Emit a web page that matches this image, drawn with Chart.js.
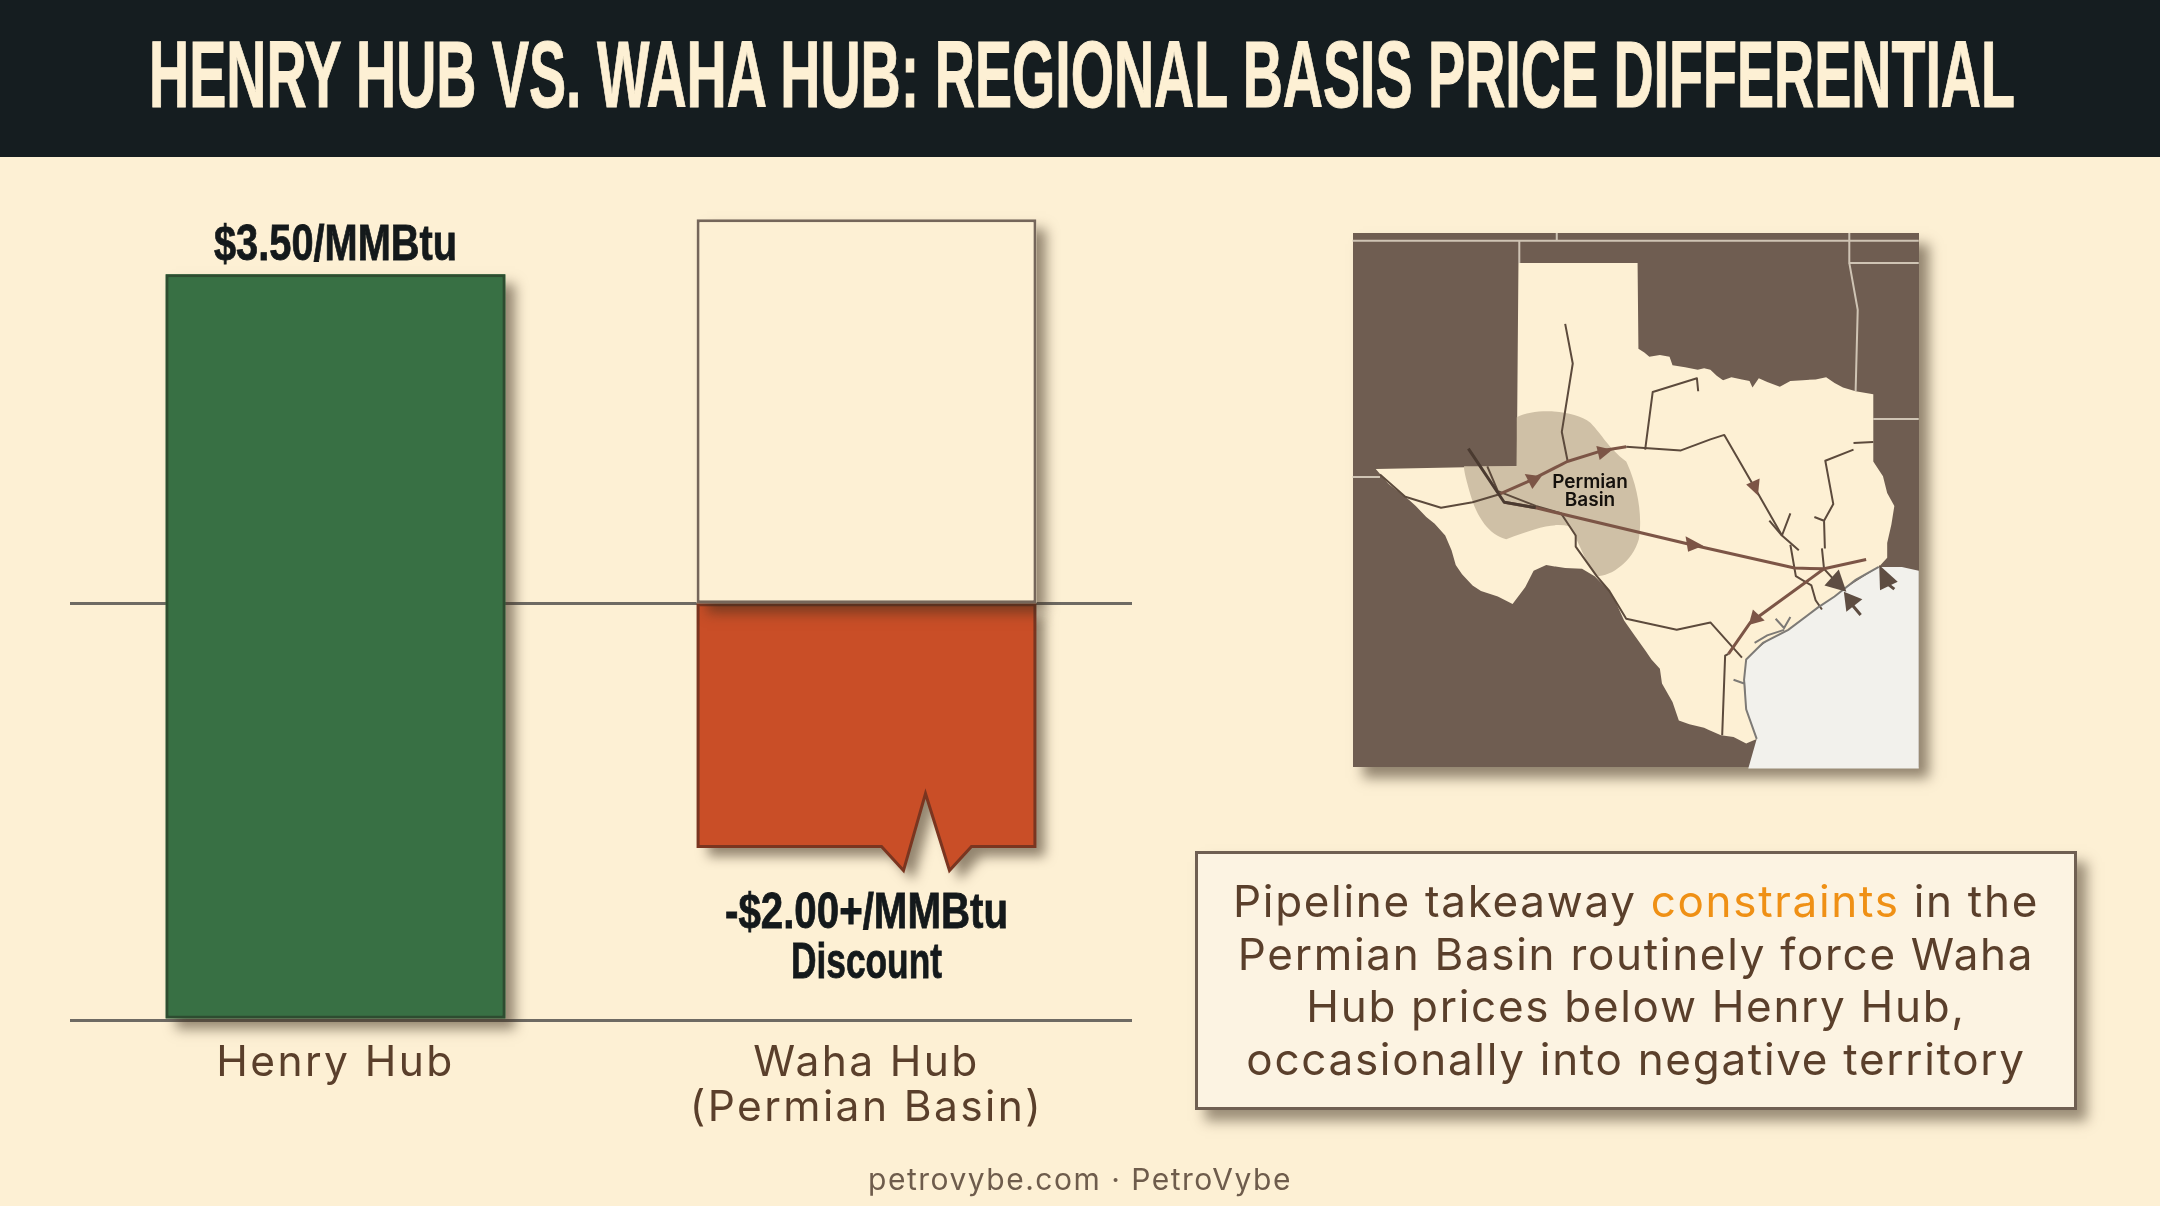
<!DOCTYPE html>
<html>
<head>
<meta charset="utf-8">
<title>Henry Hub vs. Waha Hub</title>
<script src="https://cdn.jsdelivr.net/npm/chart.js@4"></script>
<style>
  html, body { margin: 0; padding: 0; background: #fdf0d4; }
  body { width: 2160px; height: 1206px; position: relative; overflow: hidden; font-family: Inter, sans-serif; }
  #header { position: absolute; left: 0; top: 0; width: 2160px; height: 157px; background: #151d20; }
  #titleText { position: absolute; left: 1082px; top: 22px; white-space: nowrap; -webkit-text-stroke: 1px #fdf0d4;
           font: bold 94px "Liberation Sans Narrow", sans-serif; line-height: 105px; color: #fdf0d4; }
  #chart { position: absolute; left: 0; top: 0; }
  #mapBox { position: absolute; left: 1353px; top: 233px; width: 566px; height: 534px; background: #6f5d51;
            box-shadow: 10px 11px 12px rgba(60,45,30,.55); }
  #map { position: absolute; left: 1300px; top: 210px; width: 660px; height: 580px; }
  .mapLabel { position: absolute; left: 1530px; width: 120px; text-align: center; font-weight: 600; font-size: 19px; color: #14100c; line-height: 18px; }
  #note { position: absolute; left: 1195px; top: 851px; width: 876px; height: 253px; border: 3px solid #6f5f52; background: #fcf3e2;
          box-shadow: 10px 11px 12px rgba(60,45,30,.5); text-align: center; color: #5a3f2b;
          font-size: 44px; line-height: 52.5px; letter-spacing: 1.7px; }
  #note div { padding-top: 21px; }
  #note b { font-weight: 400; color: #ef9015; }
  #footer { position: absolute; left: 0; top: 1161px; width: 2160px; text-align: center; font-size: 30px; letter-spacing: 1.5px; color: #6e5c4c; }
</style>
</head>
<body>
<div id="header"></div>
<div id="titleText">HENRY HUB VS. WAHA HUB: REGIONAL BASIS PRICE DIFFERENTIAL</div>
<canvas id="chart" width="2160" height="1206"></canvas>

<div id="mapBox"></div>
<svg id="map" viewBox="0 0 1568 1568" preserveAspectRatio="none">
  <polygon fill="#f2f1ec" points="1065,1510 1085,1430 1060,1350 1055,1215 1160,1120 1375,965 1430,965 1470,975 1470,1510"/>
  <g fill="none" stroke="#cfc4b4" stroke-width="2">
    <path vector-effect="non-scaling-stroke" d="M125,83 L1470,83 M610,62 L610,83 M521,83 L521,143 M1305,62 L1305,143 L1470,143 M1305,143 L1325,270 L1320,490 M1362,565 L1470,565 M125,722 L190,722"/>
  </g>
  <polygon fill="#fdf0d4" points="519,143 802,143 804,375 818,385 830,397 855,392 878,397 885,420 915,425 945,432 960,428 975,432 990,448 1005,460 1025,452 1050,458 1068,462 1075,480 1090,455 1110,465 1140,478 1165,462 1195,460 1225,458 1250,452 1270,468 1290,480 1320,490 1362,498 1362,680 1385,720 1395,765 1412,800 1405,850 1395,900 1395,940 1375,965 1320,1000 1270,1045 1230,1075 1160,1135 1100,1170 1060,1215 1055,1270 1060,1350 1085,1430 1060,1442 1030,1425 1000,1420 970,1405 960,1400 925,1390 900,1380 885,1330 860,1280 855,1240 835,1215 820,1190 795,1150 770,1110 750,1060 735,1030 700,990 670,970 630,968 585,960 555,975 535,1020 505,1065 470,1045 430,1030 410,1015 385,985 370,960 360,920 345,880 320,848 300,830 275,800 260,785 210,740 180,700 515,693"/>
  <path fill="#cfc0a6" d="M515,560 C560,535 650,540 690,575 C720,610 730,640 775,680 C800,740 815,820 805,890 C790,950 740,990 705,990 C680,960 660,890 640,855 C600,845 560,860 490,890 C450,880 420,830 405,770 C395,730 388,700 390,693 L515,693 Z"/>
  <g fill="none" stroke="#5c4a3c" stroke-width="2" stroke-linejoin="round">
    <path vector-effect="non-scaling-stroke" d="M190,715 L250,775 L335,805 L410,790 L470,770"/>
    <path vector-effect="non-scaling-stroke" d="M775,640 L905,650 L975,620 L1008,608 L1080,750 L1145,880 L1185,920"/>
    <path vector-effect="non-scaling-stroke" d="M630,308 L648,415 L622,600 L636,680"/>
    <path vector-effect="non-scaling-stroke" d="M820,648 L838,492 L943,455 L946,490"/>
    <path vector-effect="non-scaling-stroke" d="M1145,880 L1165,820 M1115,840 L1145,880 M1165,905 L1178,990 L1215,1015 L1225,1055 L1240,1080"/>
    <path vector-effect="non-scaling-stroke" d="M1315,648 L1248,678 L1267,795 L1245,840 L1247,915 M1222,830 L1245,840 M1315,630 L1362,627"/>
    <path vector-effect="non-scaling-stroke" d="M1240,915 L1245,970 L1285,1020"/>
    <path vector-effect="non-scaling-stroke" d="M445,693 L470,760 L560,800 L620,820 L655,880 L655,910 L705,990 L735,1030 L775,1105 L895,1135 L975,1115 L1050,1210"/>
    <path vector-effect="non-scaling-stroke" d="M1018,1200 L1010,1205 L1003,1420"/>
  </g>
  <g fill="none" stroke="#7c5546" stroke-width="3" stroke-linejoin="round">
    <path vector-effect="non-scaling-stroke" d="M470,770 L540,735 L635,680 L720,650 L775,640"/>
    <path vector-effect="non-scaling-stroke" d="M485,790 L560,805 L930,905 L1175,968 L1245,970 L1345,945"/>
    <path vector-effect="non-scaling-stroke" d="M1245,970 L1070,1115 L1018,1200"/>
  </g>
  <path fill="none" stroke="#4a3a30" stroke-width="3" vector-effect="non-scaling-stroke" d="M400,645 L485,790 L560,805"/>
  <path fill="none" stroke="#7d7a76" stroke-width="2" vector-effect="non-scaling-stroke" d="M1375,965 L1320,1000 L1270,1045 L1230,1075 L1160,1135 L1100,1170 L1060,1215 L1055,1270 L1060,1350 L1085,1430 M1130,1105 L1150,1130 L1165,1100 M1080,1170 L1110,1150 L1150,1135 M1030,1270 L1055,1280"/>
  <g fill="#7c5546">
    <polygon points="574,720 534,714 552,754"/>
    <polygon points="742,648 704,638 712,676"/>
    <polygon points="1088,772 1060,742 1092,726"/>
    <polygon points="958,908 916,882 922,924"/>
    <polygon points="1066,1122 1076,1080 1104,1110"/>
  </g>
  <g fill="#5e4d42">
    <polygon points="1298,1032 1246,1015 1280,972"/>
    <polygon points="1292,1032 1336,1052 1298,1086"/>
    <polygon points="1376,960 1420,1005 1378,1028"/>
  </g>
  <path fill="none" stroke="#5e4d42" stroke-width="3" vector-effect="non-scaling-stroke" d="M1310,1065 L1332,1095 M1395,1010 L1412,1025"/>
</svg>
<div class="mapLabel" style="top: 473px;">Permian</div>
<div class="mapLabel" style="top: 491px;">Basin</div>

<div id="note"><div>Pipeline takeaway <b>constraints</b> in the<br>Permian Basin routinely force Waha<br>Hub prices below Henry Hub,<br>occasionally into negative territory</div></div>
<div id="footer">petrovybe.com · PetroVybe</div>

<script>
const categories = ['Henry Hub', ['Waha Hub', '(Permian Basin)']];
const henryRange = [0, 3.5];
const wahaOutlineRange = [1.956, 3.758];
const wahaDiscountRange = [1.956, 0.807];
const lineLevels = [0, 1.956];
const henryLabel = '$3.50/MMBtu';
const wahaLabels = ['-$2.00+/MMBtu', 'Discount'];

const labelFont = 'bold 50px "Liberation Sans Narrow", sans-serif';
const shadowColor = 'rgba(60,45,30,0.55)';

function getBar(chart, index) {
    // Henry Hub is the first category, both Waha bars the second
    return chart.getDatasetMeta(index).data[index === 0 ? 0 : 1];
}

function notchPath(ctx, bar) {
    const p = bar.getProps(['x', 'y', 'base', 'width'], true);
    const inset = 1.5;  // half the border, so the stroke stays inside the bar
    const left = p.x - p.width / 2 + inset, right = p.x + p.width / 2 - inset;
    const top = Math.min(p.y, p.base) + inset, bottom = Math.max(p.y, p.base) - inset;
    ctx.beginPath();
    ctx.moveTo(left, top);
    ctx.lineTo(right, top);
    ctx.lineTo(right, bottom);
    ctx.lineTo(p.x + 105, bottom);
    ctx.lineTo(p.x + 83, bottom + 24);
    ctx.lineTo(p.x + 59, bottom - 53);
    ctx.lineTo(p.x + 37, bottom + 24);
    ctx.lineTo(p.x + 15, bottom);
    ctx.lineTo(left, bottom);
    ctx.closePath();
}

function fitText(ctx, text, cx, baseline, width) {
    ctx.save();
    const k = width / ctx.measureText(text).width;
    ctx.translate(cx, baseline);
    ctx.scale(k, 1);
    ctx.textAlign = 'center';
    ctx.fillText(text, 0, 0);
    ctx.strokeText(text, 0, 0);
    ctx.restore();
}

const barExtras = {
    id: 'barExtras',
    beforeDraw(chart) {
        chart.ctx.letterSpacing = '2.4px';  // axis labels run wide in the picture
    },
    beforeDatasetsDraw(chart) {
        chart.ctx.letterSpacing = '0px';
    },
    beforeDatasetDraw(chart, args) {
        const ctx = chart.ctx;
        const bar = getBar(chart, args.index);
        const p = bar.getProps(['x', 'y', 'base', 'width'], true);
        ctx.save();
        ctx.shadowColor = shadowColor;
        ctx.shadowBlur = 12;
        ctx.shadowOffsetX = 10;
        ctx.shadowOffsetY = 10;
        if (args.index === 2) {
            notchPath(ctx, bar);
            ctx.fillStyle = chart.data.datasets[2].backgroundColor;
            ctx.fill();
            ctx.restore();
            // the library's bar is cut to the notched outline
            ctx.save();
            notchPath(ctx, bar);
            ctx.clip();
        } else {
            ctx.fillStyle = chart.data.datasets[args.index].backgroundColor;
            ctx.fillRect(p.x - p.width / 2, Math.min(p.y, p.base), p.width, Math.abs(p.base - p.y));
            ctx.restore();
        }
    },
    afterDatasetDraw(chart, args) {
        if (args.index !== 2) return;
        const ctx = chart.ctx;
        ctx.restore();
        const bar = getBar(chart, 2);
        notchPath(ctx, bar);
        ctx.fillStyle = chart.data.datasets[2].backgroundColor;
        ctx.fill();
        ctx.strokeStyle = chart.data.datasets[2].borderColor;
        ctx.lineWidth = 3;
        ctx.stroke();
    },
    afterDatasetsDraw(chart) {
        const ctx = chart.ctx;
        const green = getBar(chart, 0);
        const orange = getBar(chart, 2);
        ctx.save();
        ctx.font = labelFont;
        ctx.fillStyle = '#14191b';
        ctx.strokeStyle = '#14191b';
        ctx.lineWidth = 0.8;
        fitText(ctx, henryLabel, green.x, green.y - 14, 243);
        const below = Math.max(orange.y, orange.base);
        fitText(ctx, wahaLabels[0], orange.x, below + 80, 283);
        fitText(ctx, wahaLabels[1], orange.x, below + 130, 151);
        ctx.restore();
    }
};

new Chart(document.getElementById('chart'), {
    type: 'bar',
    data: {
        labels: categories,
        datasets: [
            { data: [henryRange, null], backgroundColor: '#387044', borderColor: '#2d4c30' },
            { data: [null, wahaOutlineRange], backgroundColor: '#fdf0d4', borderColor: '#75665a' },
            { data: [null, wahaDiscountRange], backgroundColor: '#c94e27', borderColor: '#7a3520' }
        ]
    },
    options: {
        responsive: false,
        animation: false,
        devicePixelRatio: 1,
        grouped: false,
        barPercentage: 0.64,
        categoryPercentage: 1,
        borderWidth: 3,
        borderSkipped: false,
        layout: { padding: { left: 70, right: 1028, top: 189, bottom: 0 } },
        plugins: { legend: { display: false }, title: { display: false }, tooltip: { enabled: false } },
        scales: {
            x: {
                grid: { display: false },
                border: { display: false },
                afterFit(scale) { scale.height = 186; },
                ticks: { color: '#5a3f2b', padding: 13, maxRotation: 0, font: { family: 'Inter', size: 42.5, lineHeight: 1.06 } }
            },
            y: {
                min: 0,
                max: 3.9,
                afterFit(scale) { scale.width = 0; },
                afterBuildTicks(scale) { scale.ticks = lineLevels.map(v => ({ value: v })); },
                grid: { color: '#6e6a63', lineWidth: 3, drawTicks: false },
                border: { display: false },
                ticks: { display: false }
            }
        }
    },
    plugins: [barExtras]
});

// squeeze the title to the width it has in the picture, centred on the header
const titleText = document.getElementById('titleText');
titleText.style.transform = 'translateX(-50%) scaleX(' + (1866 / titleText.getBoundingClientRect().width) + ')';
</script>
</body>
</html>
